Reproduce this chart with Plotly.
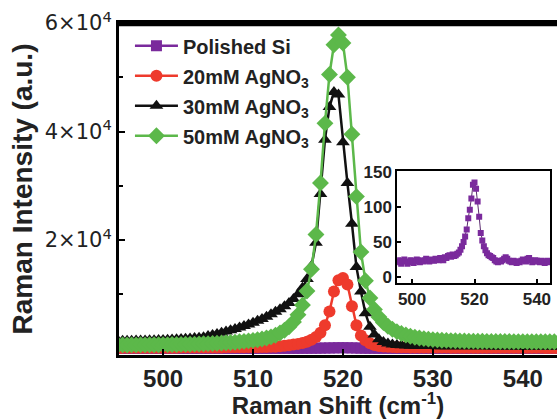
import plotly.graph_objects as go

# Raman shift grid (cm^-1), 0.5 cm^-1 steps from 495 to 545
raman_shift = [495 + 0.5 * i for i in range(101)]

polished_si = [
    22, 24, 21, 19, 23, 25, 22, 19, 21, 24,
    23, 20, 22, 25, 24, 21, 23, 22, 24, 26,
    23, 22, 25, 24, 23, 26, 25, 24, 27, 25,
    24, 28, 27, 30, 31, 29, 32, 30, 31, 33,
    35, 39, 44, 50, 58, 68, 84, 96, 112, 132,
    135, 126, 108, 86, 63, 52, 44, 38, 34, 31,
    30, 28, 27, 24, 22, 21, 23, 22, 24, 26,
    28, 26, 23, 22, 21, 23, 22, 20, 22, 21,
    23, 25, 24, 22, 26, 27, 24, 21, 22, 24,
    23, 22, 21, 23, 22, 20, 22, 23, 21, 22,
    22,
]

agno3_20mm = [
    120, 120, 130, 120, 130, 130, 140, 130, 140, 140,
    150, 140, 150, 150, 160, 160, 160, 170, 170, 180,
    180, 190, 190, 200, 210, 210, 220, 230, 240, 250,
    220, 240, 260, 280, 300, 340, 420, 500, 600, 720,
    850, 1030, 1250, 1600, 2100, 2900, 4300, 6800, 10500, 12600,
    13000, 11800, 7800, 4300, 2400, 1500, 950, 650, 450, 350,
    300, 260, 240, 220, 210, 200, 190, 180, 180, 170,
    170, 160, 160, 160, 150, 150, 150, 150, 140, 140,
    140, 140, 140, 130, 130, 130, 130, 130, 130, 120,
    120, 120, 120, 120, 120, 110, 110, 110, 110, 110,
    110,
]

agno3_30mm = [
    1400, 1420, 1410, 1440, 1450, 1470, 1480, 1500, 1530, 1550,
    1580, 1610, 1650, 1690, 1740, 1790, 1850, 1920, 2000, 2090,
    2300, 2480, 2680, 2890, 3120, 3360, 3610, 3870, 4150, 4430,
    4750, 5100, 5450, 5850, 6300, 6750, 7250, 7800, 8400, 9100,
    10000, 11200, 12800, 15200, 19500, 28500, 38500, 44500, 47300, 46800,
    38000, 30500, 23000, 15000, 10500, 6500, 4000, 2600, 1700, 1200,
    900, 750, 650, 580, 540, 510, 490, 470, 460, 450,
    440, 430, 430, 420, 420, 410, 410, 400, 400, 400,
    390, 390, 390, 380, 380, 380, 380, 370, 370, 370,
    370, 360, 360, 360, 360, 350, 350, 350, 350, 350,
    350,
]

agno3_50mm = [
    650, 660, 640, 670, 660, 680, 670, 690, 700, 690,
    710, 720, 730, 740, 760, 770, 790, 810, 830, 860,
    890, 920, 960, 1000, 1050, 1100, 1160, 1230, 1310, 1400,
    1500, 1620, 1760, 1930, 2150, 2450, 2850, 3350, 4000, 4900,
    6200, 8000, 10600, 14600, 21000, 30500, 41500, 50500, 56000, 57800,
    56300, 50000, 39500, 28000, 17800, 12500, 9300, 7200, 5800, 4800,
    4100, 3550, 3100, 2750, 2480, 2260, 2080, 1940, 1820, 1720,
    1640, 1580, 1530, 1490, 1450, 1420, 1400, 1380, 1360, 1350,
    1340, 1330, 1320, 1310, 1300, 1290, 1290, 1280, 1270, 1270,
    1260, 1260, 1250, 1250, 1240, 1240, 1230, 1230, 1220, 1220,
    1220,
]

series_names = ["Polished Si", "20mM AgNO<sub>3</sub>", "30mM AgNO<sub>3</sub>", "50mM AgNO<sub>3</sub>"]
main_ticks = [20000, 40000, 60000]
main_ticktext = ["2×10<sup>4</sup>", "4×10<sup>4</sup>", "6×10<sup>4</sup>"]
x_ticks = [500, 510, 520, 530, 540]
inset_yticks = [0, 50, 100, 150]
inset_xticks = [500, 520, 540]

PURPLE = "#7a2a9c"
RED = "#ee3a2c"
BLACK = "#111111"
GREEN = "#5cb84a"
FONT = "Liberation Sans, Arial, sans-serif"
TICKFONT = "DejaVu Sans, Verdana, sans-serif"

fig = go.Figure()

styles = [
    (polished_si, PURPLE, "square", 11),
    (agno3_20mm, RED, "circle", 12),
    (agno3_30mm, BLACK, "triangle-up", 12),
    (agno3_50mm, GREEN, "diamond", 13),
]
for name, (vals, col, sym, sz) in zip(series_names, styles):
    fig.add_trace(go.Scatter(
        x=raman_shift, y=vals, name=name, mode="lines+markers",
        line=dict(color=col, width=2.5),
        marker=dict(symbol=sym, size=sz, color=col, line=dict(width=0)),
        legendgroup=name, xaxis="x", yaxis="y",
    ))

fig.add_trace(go.Scatter(
    x=raman_shift, y=polished_si, mode="lines+markers", showlegend=False,
    line=dict(color="#5a2a6e", width=1),
    marker=dict(symbol="square", size=6, color=PURPLE),
    xaxis="x2", yaxis="y2",
))

# top frame of the main panel (thick black band at the top edge of the plot area)
fig.add_shape(type="rect", xref="paper", yref="paper", x0=-0.004, x1=1.0, y0=0.99, y1=1.003,
              fillcolor="black", line=dict(width=0), layer="above")

fig.update_layout(
    width=557, height=419,
    margin=dict(l=119, r=0, t=23, b=64),
    paper_bgcolor="white", plot_bgcolor="white",
    font=dict(family=FONT, color="#222"),
    showlegend=True,
    legend=dict(
        x=0.025, y=0.99, xanchor="left", yanchor="top",
        bgcolor="rgba(0,0,0,0)", tracegroupgap=1,
        font=dict(family=FONT, size=20, weight="bold", color="#222"),
        itemwidth=43,
    ),
    xaxis=dict(
        range=[495.1, 543.8], domain=[0, 1],
        showline=True, linecolor="black", linewidth=3, mirror=True,
        ticks="inside", ticklen=6, tickwidth=2, tickcolor="black",
        tickvals=x_ticks, showgrid=False, zeroline=False,
        tickfont=dict(family=FONT, size=24, weight="bold", color="#222"),
        title=dict(text="Raman Shift (cm<sup>-1</sup>)", standoff=8,
                   font=dict(family=FONT, size=24, weight="bold", color="#222")),
    ),
    yaxis=dict(
        range=[-1200, 60000], domain=[0, 1],
        showline=True, linecolor="black", linewidth=3, mirror=False,
        ticks="inside", ticklen=6, tickwidth=2, tickcolor="black",
        tickmode="array", tickvals=main_ticks, ticktext=main_ticktext,
        minor=dict(tickvals=[10000, 30000, 50000], ticks="inside", ticklen=4, tickwidth=2, tickcolor="black"),
        showgrid=False, zeroline=False,
        tickfont=dict(family=TICKFONT, size=21, color="#222"),
        title=dict(text="Raman Intensity (a.u.)", standoff=4,
                   font=dict(family=FONT, size=28, weight="bold", color="#222")),
    ),
    xaxis2=dict(
        range=[495.2, 544.2], domain=[0.635, 0.984], anchor="y2",
        showline=True, linecolor="black", linewidth=1.5, mirror=True,
        ticks="inside", ticklen=4, tickwidth=1.5, tickcolor="black",
        tickvals=inset_xticks, showgrid=False, zeroline=False,
        tickfont=dict(family=FONT, size=17, weight="bold", color="#222"),
    ),
    yaxis2=dict(
        range=[-8.6, 151.4], domain=[0.217, 0.554], anchor="x2",
        showline=True, linecolor="black", linewidth=1.5, mirror=True,
        ticks="inside", ticklen=4, tickwidth=1.5, tickcolor="black",
        tickvals=inset_yticks, showgrid=False, zeroline=False,
        tickfont=dict(family=FONT, size=17, weight="bold", color="#222"),
    ),
)

fig.write_html("out.html", config={"displayModeBar": False},
               post_script="document.body.style.margin='0';")
